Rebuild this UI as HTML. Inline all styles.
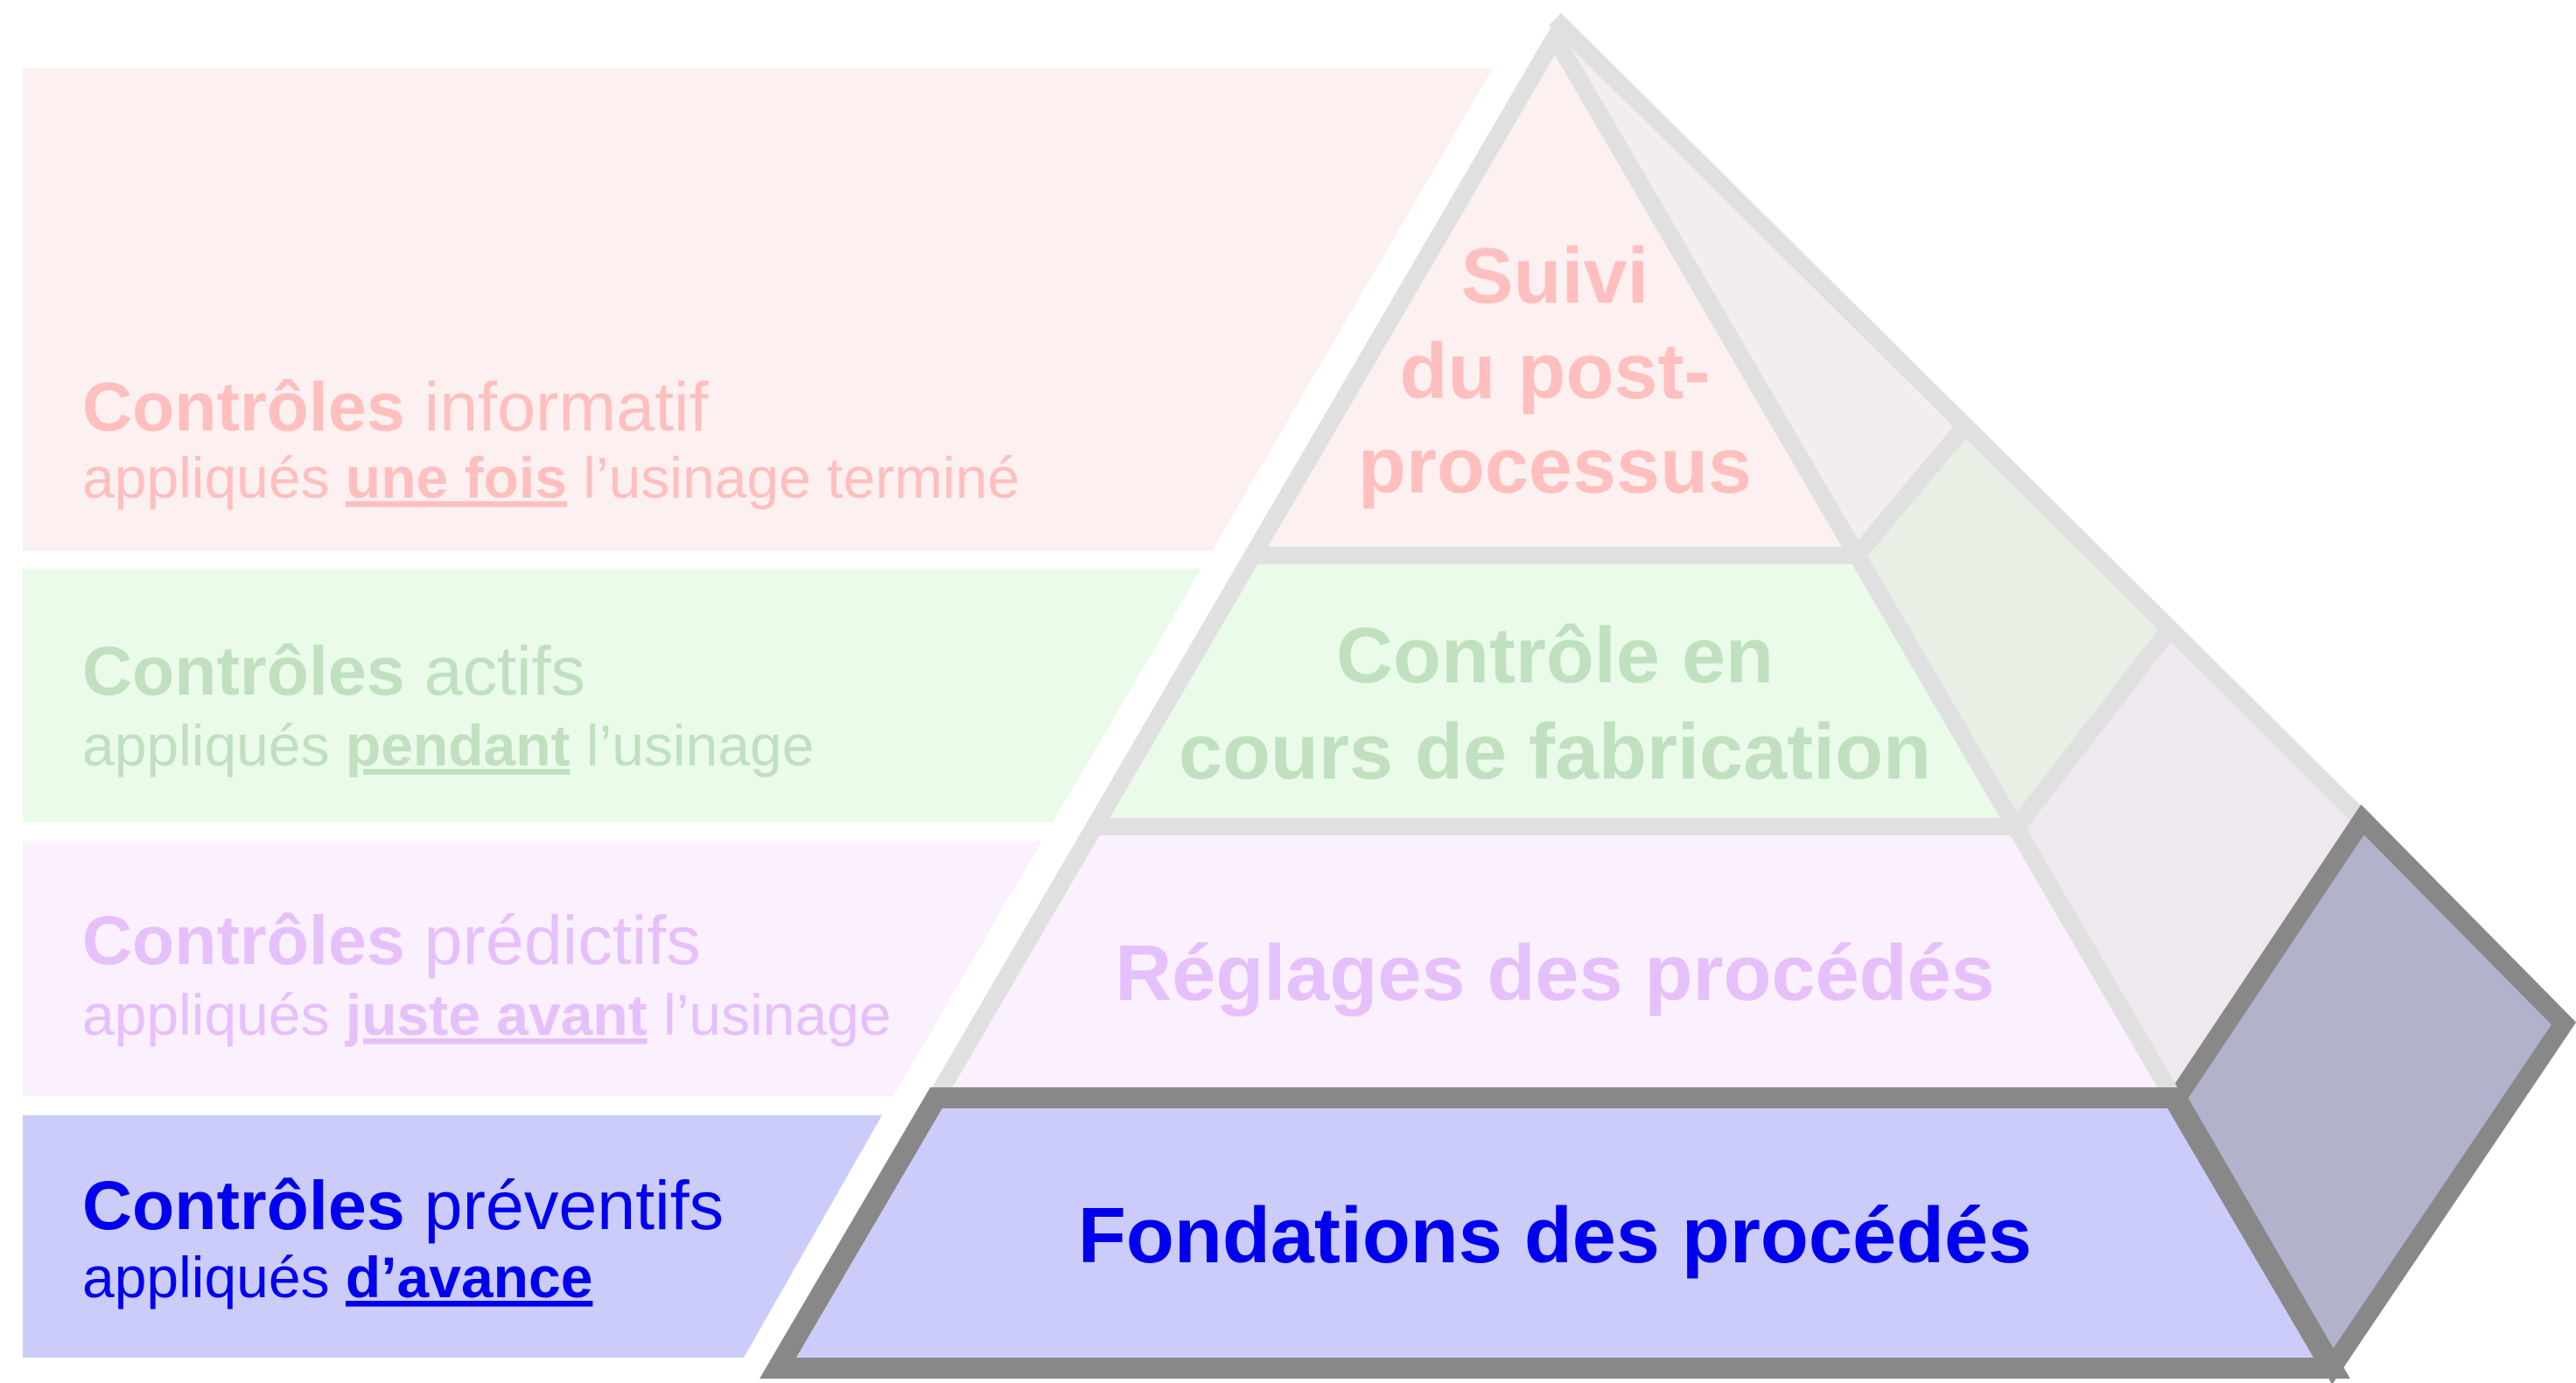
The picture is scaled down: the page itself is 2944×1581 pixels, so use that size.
<!DOCTYPE html>
<html><head><meta charset="utf-8"><style>
html,body{margin:0;padding:0;background:#fff}
svg{display:block}
text{font-family:"Liberation Sans",Arial,sans-serif}
.t{font-size:79px}
.s{font-size:66px}
.b{font-weight:bold}
.c{font-weight:bold;font-size:90px;text-anchor:middle}
</style></head><body>
<svg width="2944" height="1581" viewBox="0 0 2944 1581" xmlns="http://www.w3.org/2000/svg">
<polygon points="26,78 1706,78 1385,630 26,630" fill="#fdf0f0"/>
<polygon points="26,650 1373,650 1203,940 26,940" fill="#eafbea"/>
<polygon points="26,961 1191,961 1021,1253 26,1253" fill="#fbf0fd"/>
<polygon points="26,1275 1008,1275 850,1552 26,1552" fill="#ccccfb"/>

<polygon points="1777,22 2248,489 2122,635" fill="#f3eded"/>
<polygon points="2122,635 2248,489 2482,721 2305,945" fill="#e8efe4"/>
<polygon points="2305,945 2482,721 2700,937 2488,1255" fill="#efe8ef"/>
<g stroke="#e0e0e0" stroke-width="20" fill="none" stroke-linejoin="round">
<line x1="2122" y1="635" x2="2244" y2="489"/>
<line x1="2305" y1="945" x2="2478" y2="721"/>
<polyline points="1777,22 2700,937"/>
</g>
<polygon points="2488,1255 2700,937 2930,1170 2666,1562" fill="#b3b2cc" stroke="#888" stroke-width="22" stroke-linejoin="miter"/>

<polygon points="1777,43 2122,635 1432,635" fill="#fdf0f0"/>
<polygon points="1432,635 2122,635 2303,945 1251,945" fill="#eafbea"/>
<polygon points="1251,945 2303,945 2484,1255 1070,1255" fill="#fbf0fd"/>
<g stroke="#e0e0e0" stroke-width="20" fill="none" stroke-linejoin="miter">
<polygon points="1777,43 2484,1255 1070,1255"/>
<line x1="1432" y1="635" x2="2122" y2="635"/>
<line x1="1251" y1="945" x2="2303" y2="945"/>
</g>
<polygon points="1070,1255 2484,1255 2665,1564 889,1564" fill="#ccccfb" stroke="#888" stroke-width="24" stroke-linejoin="miter"/>

<g fill="#ffbfbf">
<text x="1777" y="346" class="c">Suivi</text>
<text x="1777" y="455" class="c">du post-</text>
<text x="1777" y="563" class="c">processus</text>
</g>
<text x="1777" y="780" class="c" fill="#c0e0c0">Contrôle en</text>
<text x="1777" y="890" class="c" fill="#c0e0c0">cours de fabrication</text>
<text x="1777" y="1143" class="c" fill="#e6c0fa">Réglages des procédés</text>
<text x="1777" y="1443" class="c" fill="#0000ee">Fondations des procédés</text>

<g fill="#ffbfbf">
<text x="94" y="492" class="t"><tspan class="b">Contrôles</tspan> informatif</text>
<text x="94" y="569" class="s">appliqués <tspan class="b" text-decoration="underline">une fois</tspan> l’usinage terminé</text>
</g>
<g fill="#c0e0c0">
<text x="94" y="794" class="t"><tspan class="b">Contrôles</tspan> actifs</text>
<text x="94" y="875" class="s">appliqués <tspan class="b" text-decoration="underline">pendant</tspan> l’usinage</text>
</g>
<g fill="#e6c0fa">
<text x="94" y="1102" class="t"><tspan class="b">Contrôles</tspan> prédictifs</text>
<text x="94" y="1183" class="s">appliqués <tspan class="b" text-decoration="underline">juste avant</tspan> l’usinage</text>
</g>
<g fill="#0000ee">
<text x="94" y="1405" class="t"><tspan class="b">Contrôles</tspan> préventifs</text>
<text x="94" y="1483" class="s">appliqués <tspan class="b" text-decoration="underline">d’avance</tspan></text>
</g>
</svg>
</body></html>
